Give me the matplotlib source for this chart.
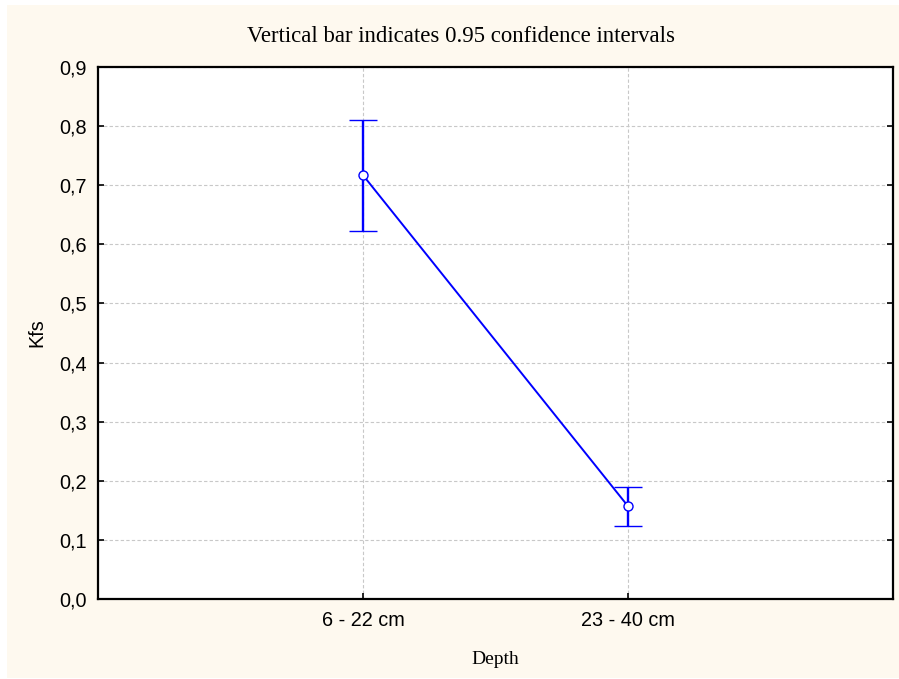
import matplotlib
matplotlib.use("Agg")
import matplotlib.pyplot as plt
from matplotlib.patches import Rectangle

categories = ["6 - 22 cm", "23 - 40 cm"]
means = [0.717, 0.157]
upper = [0.810, 0.189]
lower = [0.623, 0.123]
yticks = [0.0, 0.1, 0.2, 0.3, 0.4, 0.5, 0.6, 0.7, 0.8, 0.9]

fig = plt.figure(figsize=(8.99, 6.79), dpi=100)
fig.patch.set_facecolor("white")
fig.patches.append(Rectangle((7/899, 1-678/679), (899-7)/899, (678-5)/679,
                             transform=fig.transFigure, facecolor="#FEF9EF",
                             edgecolor="none", zorder=-10))

ax = fig.add_axes([98/899, 1-599/679, (893-98)/899, (599-67)/679])
ax.set_facecolor("white")

x = list(range(1, len(categories) + 1))
yerr = [[m - l for m, l in zip(means, lower)], [u - m for m, u in zip(means, upper)]]
ax.errorbar(x, means, yerr=yerr, color="#0000FF", lw=1.4, elinewidth=1.7,
            capsize=10, capthick=1.7, marker="o", markersize=6.5,
            markerfacecolor="white", markeredgecolor="#0000FF", markeredgewidth=1.0,
            zorder=3)

ax.set_xlim(0, len(categories) + 1)
ax.set_ylim(0, 0.9)
ax.set_xticks(x)
ax.set_xticklabels(categories, family="Liberation Sans", fontsize=14.3)
ax.set_yticks(yticks)
ax.set_yticklabels([f"{v:.1f}".replace(".", ",") for v in yticks],
                   family="Liberation Sans", fontsize=14.3)
ax.tick_params(direction="in", length=4, width=1.2, right=True)
ax.tick_params(axis="y", pad=8)
ax.tick_params(axis="x", pad=9)
ax.grid(True, color="#C8C8C8", ls=(0, (3, 2)), lw=0.8)
ax.set_axisbelow(True)
for s in ax.spines.values():
    s.set_linewidth(1.6)
    s.set_color("black")

ax.set_ylabel("Kfs", family="Liberation Sans", fontsize=14.3)
ax.yaxis.set_label_coords(-(98 - 46) / 795, 0.5)
fig.text(0.5 * (98 + 893) / 899, 1 - 660/679, "Depth", ha="center", va="center",
         family="Liberation Serif", fontsize=14)
fig.text(461/899, 1 - 36/679, "Vertical bar indicates 0.95 confidence intervals",
         ha="center", va="center", family="Liberation Serif", fontsize=16.4)

fig.savefig("out.png", dpi=100)
